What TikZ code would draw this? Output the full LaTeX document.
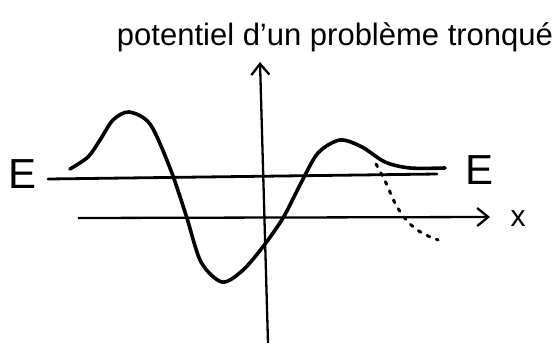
\documentclass[tikz,border=0pt]{standalone}
\usepackage{fontspec}
\setmainfont{Liberation Sans}
\definecolor{ink}{HTML}{000000}
\usetikzlibrary{arrows.meta}

\begin{document}
\begin{tikzpicture}[
  x=1pt,y=-1pt,
  axis/.style={ink,line width=2.3pt,-{Straight Barb[length=11pt,width=18pt,line width=2.3pt]}},
  level/.style={ink,line width=2.8pt,line cap=round},
  potcurve/.style={ink,line width=3.6pt,line cap=round},
  truncated/.style={ink,line width=3pt,dash pattern=on 3pt off 7pt,line cap=round},
  lbl/.style={text=ink,inner sep=0pt}
]
  \useasboundingbox (0,0) rectangle (558,346);
  % axes
  \coordinate (yfoot) at (268,343);
  \coordinate (ytip) at (260,62);
  \coordinate (xstart) at (78,218);
  \coordinate (xtip) at (490,217);
  \draw[axis] (yfoot) -- (ytip);
  \draw[axis] (xstart) -- (xtip);
  % energy level
  \coordinate (eleft) at (48,179);
  \coordinate (eright) at (437,174);
  \draw[level] (eleft) -- (eright);
  % potential
  \draw[potcurve] plot[smooth] coordinates {(70,169) (88,157) (100,140) (113,120) (129,112) (150,124)
    (170,168) (186,215) (201,262) (222,282) (242,271) (262,248) (283,218) (301,183)
    (318,153) (340,140) (362,147) (385,162) (410,168) (445,168)};
  % truncated part
  \draw[truncated] plot[smooth] coordinates {(376,164) (386,183) (396,205) (408,222) (422,233) (438,240)};
  % labels
  \node[lbl,font=\fontsize{31}{33}\selectfont] (title) at (335,37) {potentiel d'un problème tronqué};
  \node[lbl,font=\fontsize{42}{44}\selectfont] (eL) at (23,174) {E};
  \node[lbl,font=\fontsize{42}{44}\selectfont] (eR) at (480,170) {E};
  \node[lbl,font=\fontsize{30}{32}\selectfont] (xlbl) at (518,219) {x};
\end{tikzpicture}
\end{document}
